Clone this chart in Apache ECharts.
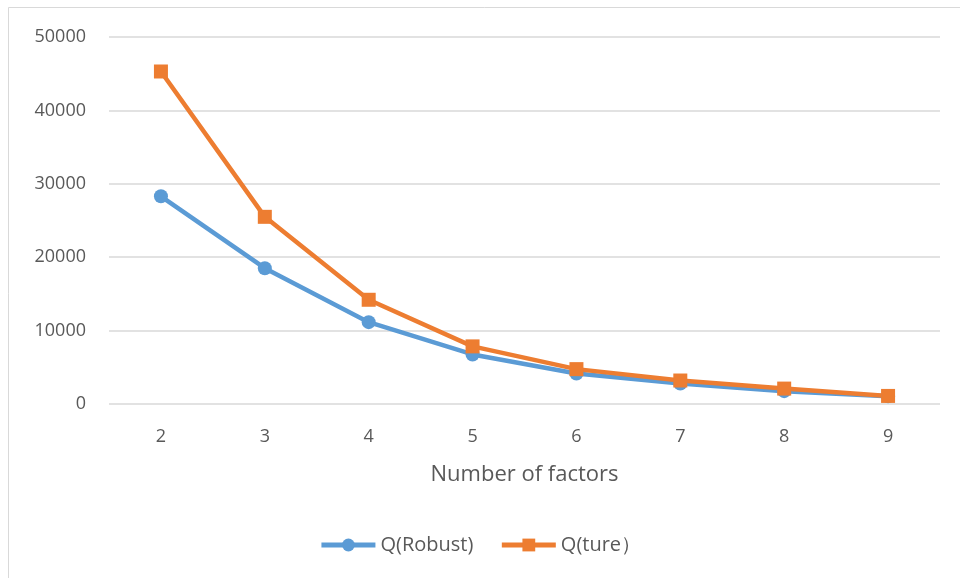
<!DOCTYPE html>
<html>
<head>
<meta charset="utf-8">
<script src="https://cdn.jsdelivr.net/npm/echarts@6/dist/echarts.min.js"></script>
<style>
  html, body { margin: 0; padding: 0; background: #fff; }
  #chart { width: 960px; height: 578px; }
</style>
</head>
<body>
<div id="chart"></div>
<script>
// Number of factors on the x axis
const factors = ['2', '3', '4', '5', '6', '7', '8', '9'];
// Q statistic per factor count
const qRobust = [28300, 18500, 11150, 6750, 4150, 2800, 1750, 1050];
const qTure = [45300, 25500, 14200, 7850, 4750, 3200, 2100, 1100];
const seriesNames = ['Q(Robust)', 'Q(ture）'];
const yTicks = { min: 0, max: 50000, interval: 10000 };

const textColor = '#595959';
const fontFamily = '"Open Sans", "Noto Sans", sans-serif';

const chart = echarts.init(document.getElementById('chart'));
chart.setOption({
  animation: false,
  backgroundColor: '#fff',
  graphic: [{
    type: 'rect',
    shape: { x: 8.5, y: 7.5, width: 960, height: 580 },
    style: { fill: 'none', stroke: '#d9d9d9', lineWidth: 1 },
    silent: true
  }],
  grid: { left: 109, right: 20, top: 37, bottom: 174 },
  legend: {
    bottom: 18,
    left: 'center',
    itemWidth: 54,
    itemHeight: 16,
    itemGap: 26,
    lineStyle: { width: 5 },
    textStyle: { color: textColor, fontSize: 20, fontFamily: fontFamily },
    data: seriesNames
  },
  xAxis: {
    type: 'category',
    data: factors,
    boundaryGap: true,
    name: 'Number of factors',
    nameLocation: 'middle',
    nameGap: 60,
    nameTextStyle: { color: textColor, fontSize: 22, fontFamily: fontFamily },
    axisLine: { show: false },
    axisTick: { show: false },
    axisLabel: { color: textColor, fontSize: 18, fontFamily: fontFamily, margin: 24 }
  },
  yAxis: {
    type: 'value',
    min: yTicks.min,
    max: yTicks.max,
    interval: yTicks.interval,
    axisLine: { show: false },
    axisTick: { show: false },
    axisLabel: {
      color: textColor, fontSize: 18, fontFamily: fontFamily, margin: 23,
      formatter: function (v) { return String(v); }
    },
    splitLine: { lineStyle: { color: '#d9d9d9', width: 1.5 } }
  },
  series: [
    {
      name: seriesNames[0],
      type: 'line',
      data: qRobust,
      symbol: 'circle',
      symbolSize: 14,
      lineStyle: { color: '#5B9BD5', width: 4.5 },
      itemStyle: { color: '#5B9BD5' }
    },
    {
      name: seriesNames[1],
      type: 'line',
      data: qTure,
      symbol: 'rect',
      symbolSize: 14,
      lineStyle: { color: '#ED7D31', width: 4.5 },
      itemStyle: { color: '#ED7D31' }
    }
  ]
});
</script>
</body>
</html>
